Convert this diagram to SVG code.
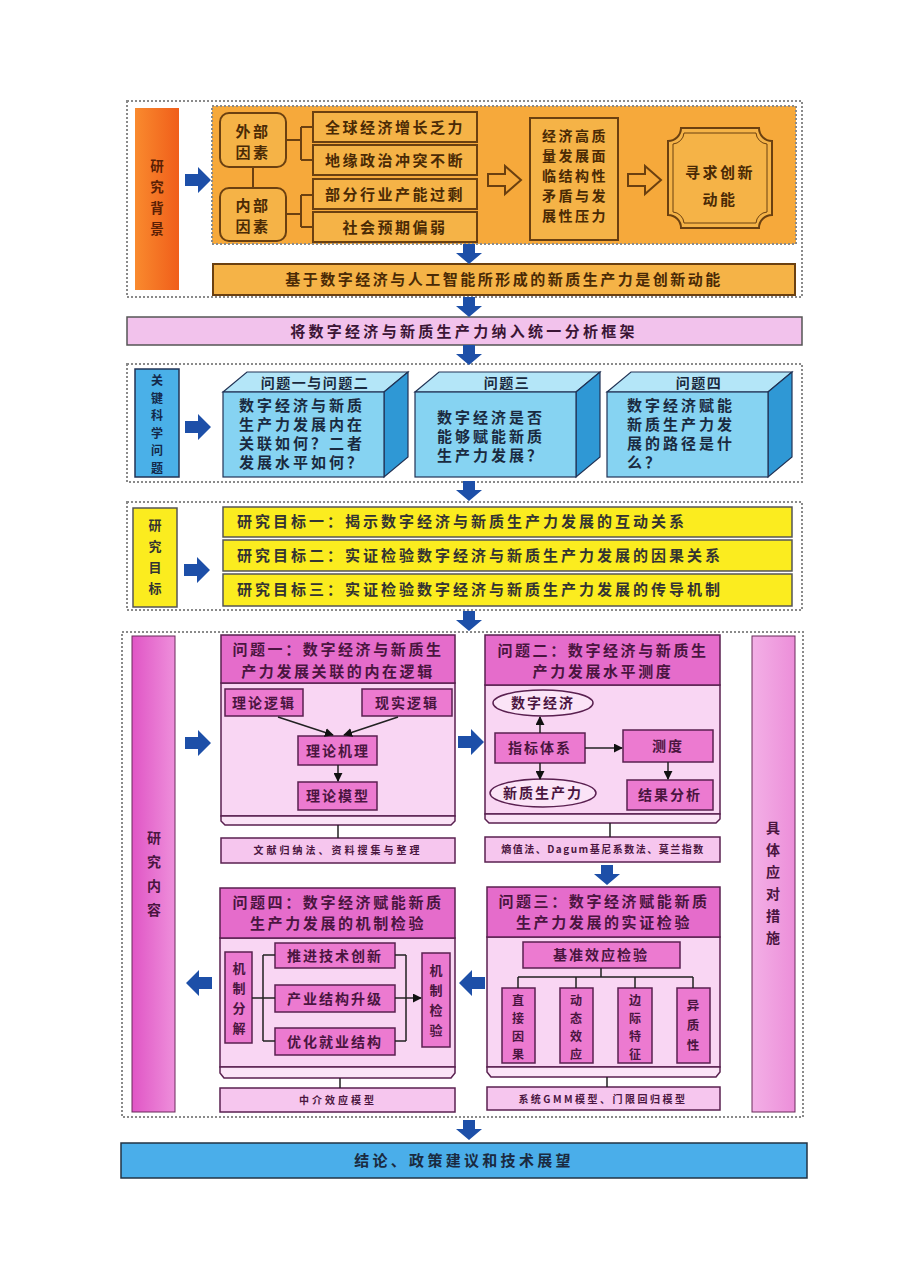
<svg xmlns="http://www.w3.org/2000/svg" width="904" height="1280" viewBox="0 0 904 1280">
<defs>
<style>
text{font-family:"Noto Sans CJK SC","Noto Sans",sans-serif;font-weight:bold;}
.frame{fill:none;stroke:#8a8a8a;stroke-width:2;stroke-dasharray:2,2}
.ob{fill:#f5b347;stroke:#6b4010;stroke-width:2}
.ot{fill:#4a2a05;font-size:15px;letter-spacing:2.5px;text-anchor:middle}
.pt{fill:#4a1540;text-anchor:middle}
.hdr{fill:#e56ccb;stroke:#5a2050;stroke-width:1.5}
.body{fill:#f9d6f3;stroke:#5a2050;stroke-width:1.5}
.ib{fill:#ec7ad0;stroke:#5a2050;stroke-width:1.5}
.sb{fill:#f6c6ee;stroke:#5a2050;stroke-width:1.5}
.yb{fill:#fbec1f;stroke:#555;stroke-width:1.5}
.yt{fill:#333;font-size:15px;letter-spacing:3px}
.bt{fill:#1a2a40;font-size:15px;letter-spacing:3px}
.ln{fill:none;stroke:#222;stroke-width:1.5}
.bl{fill:none;stroke:#6b4010;stroke-width:2}
</style>
<path id="arrD" d="M-6,-10 H6 V-1 H13 L0,10 L-13,-1 H-6 Z" fill="#1d4fa8"/>
<path id="arrR" d="M-13,-6 H0 V-13 L13,0 L0,13 V6 H-13 Z" fill="#1d4fa8"/>
<path id="arrL" d="M13,-6 H0 V-13 L-13,0 L0,13 V6 H13 Z" fill="#1d4fa8"/>
<marker id="mk" viewBox="0 0 10 10" refX="9" refY="5" markerWidth="6" markerHeight="6" orient="auto"><path d="M0,0 L10,5 L0,10 Z" fill="#111"/></marker>
<linearGradient id="gOr" x1="0" y1="0" x2="1" y2="0"><stop offset="0" stop-color="#f98a2e"/><stop offset="1" stop-color="#f05e1a"/></linearGradient>
<linearGradient id="gMg" x1="0" y1="0" x2="1" y2="0"><stop offset="0" stop-color="#e055c5"/><stop offset="1" stop-color="#ee8fdb"/></linearGradient>
<linearGradient id="gMg2" x1="0" y1="0" x2="1" y2="0"><stop offset="0" stop-color="#f3b0e6"/><stop offset="1" stop-color="#ec8ed9"/></linearGradient>
</defs>
<rect width="904" height="1280" fill="#ffffff"/>

<!-- Section 1: background -->
<g id="sec-background">
<rect class="frame" x="127" y="101" width="675" height="196"/>
<rect x="135" y="108" width="44" height="182" fill="url(#gOr)"/>
<text fill="#5a2005" font-size="13.5" text-anchor="middle"><tspan x="157" y="171">研</tspan><tspan x="157" y="192">究</tspan><tspan x="157" y="213">背</tspan><tspan x="157" y="234">景</tspan></text>
<rect x="212" y="106" width="584" height="138" fill="#f6a93b" stroke="#8a8a8a" stroke-width="2" stroke-dasharray="2,2"/>
</g>
<g id="n-external"><rect class="ob" x="220" y="113" width="66" height="54" rx="9"/><text class="ot"><tspan x="253" y="137">外部</tspan><tspan x="253" y="158">因素</tspan></text></g>
<g id="n-internal"><rect class="ob" x="220" y="188" width="66" height="53" rx="9"/><text class="ot"><tspan x="253" y="211">内部</tspan><tspan x="253" y="232">因素</tspan></text></g>
<g id="n-e1"><rect class="ob" x="313" y="112" width="164" height="30"/><text class="ot" x="395" y="133">全球经济增长乏力</text></g>
<g id="n-e2"><rect class="ob" x="313" y="145" width="164" height="30"/><text class="ot" x="395" y="166">地缘政治冲突不断</text></g>
<g id="n-i1"><rect class="ob" x="313" y="179" width="164" height="30"/><text class="ot" x="395" y="200">部分行业产能过剩</text></g>
<g id="n-i2"><rect class="ob" x="313" y="212" width="164" height="30"/><text class="ot" x="395" y="233">社会预期偏弱</text></g>
<g id="n-pressure"><rect class="ob" x="530" y="118" width="88" height="122"/><text class="ot" style="font-size:14px"><tspan x="575" y="141">经济高质</tspan><tspan x="575" y="161">量发展面</tspan><tspan x="575" y="181">临结构性</tspan><tspan x="575" y="201">矛盾与发</tspan><tspan x="575" y="221">展性压力</tspan></text></g>
<g id="n-seek"><path class="ob" d="M681,128 H759 A13,13 0 0 0 772,141 V215 A13,13 0 0 0 759,228 H681 A13,13 0 0 0 668,215 V141 A13,13 0 0 0 681,128 Z"/><path d="M684,133 H756 A12,12 0 0 0 767,144 V212 A12,12 0 0 0 756,223 H684 A12,12 0 0 0 673,212 V144 A12,12 0 0 0 684,133 Z" fill="none" stroke="#6b4010" stroke-width="1"/><text class="ot"><tspan x="720" y="178">寻求创新</tspan><tspan x="720" y="205">动能</tspan></text></g>
<g id="n-newprod"><rect class="ob" x="213" y="264" width="582" height="31"/><text class="ot" x="504" y="285" letter-spacing="3.3">基于数字经济与人工智能所形成的新质生产力是创新动能</text></g>

<!-- Section 2 -->
<g id="n-framework"><rect x="127" y="317" width="675" height="28" fill="#f2c2ec" stroke="#555" stroke-width="1.5"/><text x="464" y="337" fill="#3a1535" font-size="15" letter-spacing="3.3" text-anchor="middle">将数字经济与新质生产力纳入统一分析框架</text></g>

<!-- Section 3 -->
<g id="sec-key">
<rect class="frame" x="127" y="364" width="675" height="118"/>
<rect x="135" y="369" width="44" height="108" fill="#4ab0e8" stroke="#235" stroke-width="1.5"/>
<text fill="#13284a" font-size="12" text-anchor="middle"><tspan x="157" y="385">关</tspan><tspan x="157" y="402.5">键</tspan><tspan x="157" y="420">科</tspan><tspan x="157" y="437.5">学</tspan><tspan x="157" y="455">问</tspan><tspan x="157" y="472.5">题</tspan></text>
</g>
<g id="n-q12">
<path d="M223,392 L247,372 H408 L384,392 Z" fill="#b4e6f8" stroke="#235" stroke-width="1.2"/>
<path d="M384,392 L408,372 V457 L384,477 Z" fill="#2f98d5" stroke="#235" stroke-width="1.2"/>
<rect x="223" y="392" width="161" height="85" fill="#86d3f2" stroke="#235" stroke-width="1.2"/>
<text x="315" y="388" fill="#1a2a40" font-size="14" letter-spacing="1.5" text-anchor="middle">问题一与问题二</text>
<text class="bt"><tspan x="239" y="411">数字经济与新质</tspan><tspan x="239" y="430">生产力发展内在</tspan><tspan x="239" y="449">关联如何？二者</tspan><tspan x="239" y="468">发展水平如何？</tspan></text>
</g>
<g id="n-q3">
<path d="M415,392 L439,372 H600 L576,392 Z" fill="#b4e6f8" stroke="#235" stroke-width="1.2"/>
<path d="M576,392 L600,372 V457 L576,477 Z" fill="#2f98d5" stroke="#235" stroke-width="1.2"/>
<rect x="415" y="392" width="161" height="85" fill="#86d3f2" stroke="#235" stroke-width="1.2"/>
<text x="507" y="388" fill="#1a2a40" font-size="14" letter-spacing="1.5" text-anchor="middle">问题三</text>
<text class="bt"><tspan x="437" y="423">数字经济是否</tspan><tspan x="437" y="442">能够赋能新质</tspan><tspan x="437" y="461">生产力发展？</tspan></text>
</g>
<g id="n-q4">
<path d="M607,392 L631,372 H792 L768,392 Z" fill="#b4e6f8" stroke="#235" stroke-width="1.2"/>
<path d="M768,392 L792,372 V457 L768,477 Z" fill="#2f98d5" stroke="#235" stroke-width="1.2"/>
<rect x="607" y="392" width="161" height="85" fill="#86d3f2" stroke="#235" stroke-width="1.2"/>
<text x="699" y="388" fill="#1a2a40" font-size="14" letter-spacing="1.5" text-anchor="middle">问题四</text>
<text class="bt"><tspan x="627" y="411">数字经济赋能</tspan><tspan x="627" y="430">新质生产力发</tspan><tspan x="627" y="449">展的路径是什</tspan><tspan x="627" y="468">么？</tspan></text>
</g>

<!-- Section 4 -->
<g id="sec-goal">
<rect class="frame" x="127" y="502" width="675" height="108"/>
<rect x="133" y="508" width="44" height="99" fill="#fbec1f" stroke="#555" stroke-width="1.5"/>
<text fill="#333" font-size="13" text-anchor="middle"><tspan x="155" y="530">研</tspan><tspan x="155" y="551">究</tspan><tspan x="155" y="572">目</tspan><tspan x="155" y="593">标</tspan></text>
</g>
<g id="n-goal1"><rect class="yb" x="223" y="507" width="569" height="30"/><text class="yt" x="237" y="527">研究目标一：揭示数字经济与新质生产力发展的互动关系</text></g>
<g id="n-goal2"><rect class="yb" x="223" y="540" width="569" height="31"/><text class="yt" x="237" y="561">研究目标二：实证检验数字经济与新质生产力发展的因果关系</text></g>
<g id="n-goal3"><rect class="yb" x="223" y="574" width="569" height="32"/><text class="yt" x="237" y="595">研究目标三：实证检验数字经济与新质生产力发展的传导机制</text></g>

<!-- Section 5 -->
<g id="sec-content">
<rect class="frame" x="122" y="632" width="681" height="485"/>
<rect x="132" y="636" width="43" height="476" fill="url(#gMg)" stroke="#6a2a5a" stroke-width="1"/>
<text fill="#4a1540" font-size="14" text-anchor="middle"><tspan x="154" y="843">研</tspan><tspan x="154" y="867">究</tspan><tspan x="154" y="891">内</tspan><tspan x="154" y="915">容</tspan></text>
</g>
<g id="n-measures">
<rect x="752" y="636" width="43" height="476" fill="url(#gMg2)" stroke="#6a2a5a" stroke-width="1"/>
<text fill="#4a1540" font-size="14" text-anchor="middle"><tspan x="773" y="833">具</tspan><tspan x="773" y="855">体</tspan><tspan x="773" y="877">应</tspan><tspan x="773" y="899">对</tspan><tspan x="773" y="921">措</tspan><tspan x="773" y="943">施</tspan></text>
</g>

<!-- Problem 1 -->
<g id="n-p1">
<rect class="body" x="221" y="683" width="234" height="133"/>
<path d="M221,816 H455 V821 L451,825 H225 L221,821 Z" fill="#fbe4f7" stroke="#5a2050" stroke-width="1.5"/>
<rect class="hdr" x="221" y="635" width="234" height="48"/>
<text class="pt" font-size="15" letter-spacing="2.6"><tspan x="338" y="655">问题一：数字经济与新质生</tspan><tspan x="338" y="677">产力发展关联的内在逻辑</tspan></text>
</g>
<g id="n-p1a"><rect class="ib" x="225" y="689" width="78" height="27"/><text class="pt" x="264" y="708" font-size="14" letter-spacing="2">理论逻辑</text></g>
<g id="n-p1b"><rect class="ib" x="362" y="689" width="90" height="27"/><text class="pt" x="407" y="708" font-size="14" letter-spacing="2">现实逻辑</text></g>
<g id="n-p1c"><rect class="ib" x="298" y="736" width="79" height="29"/><text class="pt" x="338" y="756" font-size="14" letter-spacing="2">理论机理</text></g>
<g id="n-p1d"><rect class="ib" x="298" y="782" width="79" height="28"/><text class="pt" x="338" y="801" font-size="14" letter-spacing="2">理论模型</text></g>
<g id="n-p1m"><rect class="sb" x="221" y="838" width="234" height="25"/><text class="pt" x="338" y="854" font-size="10" letter-spacing="3">文献归纳法、资料搜集与整理</text></g>

<!-- Problem 2 -->
<g id="n-p2">
<rect class="body" x="485" y="685" width="235" height="129"/>
<path d="M485,814 H720 V819 L716,823 H489 L485,819 Z" fill="#fbe4f7" stroke="#5a2050" stroke-width="1.5"/>
<rect class="hdr" x="485" y="635" width="235" height="50"/>
<text class="pt" font-size="15" letter-spacing="2.6"><tspan x="603" y="656">问题二：数字经济与新质生</tspan><tspan x="603" y="677">产力发展水平测度</tspan></text>
</g>
<g id="n-p2a"><ellipse cx="543" cy="703" rx="50" ry="13" fill="#fbe4f7" stroke="#5a2050" stroke-width="1.5"/><text class="pt" x="543" y="708" font-size="14" letter-spacing="2">数字经济</text></g>
<g id="n-p2b"><rect class="ib" x="495" y="733" width="90" height="30"/><text class="pt" x="540" y="753" font-size="14" letter-spacing="2">指标体系</text></g>
<g id="n-p2c"><ellipse cx="543" cy="793" rx="53" ry="14" fill="#fbe4f7" stroke="#5a2050" stroke-width="1.5"/><text class="pt" x="543" y="798" font-size="14" letter-spacing="2">新质生产力</text></g>
<g id="n-p2d"><rect class="ib" x="623" y="730" width="90" height="32"/><text class="pt" x="668" y="751" font-size="14" letter-spacing="2">测度</text></g>
<g id="n-p2e"><rect class="ib" x="627" y="780" width="86" height="30"/><text class="pt" x="670" y="800" font-size="14" letter-spacing="2">结果分析</text></g>
<g id="n-p2m"><rect class="sb" x="485" y="837" width="235" height="25"/><text class="pt" x="603" y="853" font-size="10" letter-spacing="1.5">熵值法、Dagum基尼系数法、莫兰指数</text></g>

<!-- Problem 3 -->
<g id="n-p3">
<rect class="body" x="487" y="937" width="233" height="130"/>
<path d="M487,1067 H720 V1072 L716,1077 H491 L487,1072 Z" fill="#fbe4f7" stroke="#5a2050" stroke-width="1.5"/>
<rect class="hdr" x="487" y="887" width="233" height="50"/>
<text class="pt" font-size="15" letter-spacing="2.6"><tspan x="604" y="907">问题三：数字经济赋能新质</tspan><tspan x="604" y="928">生产力发展的实证检验</tspan></text>
</g>
<g id="n-p3a"><rect class="ib" x="523" y="942" width="157" height="26"/><text class="pt" x="601" y="960" font-size="14" letter-spacing="2">基准效应检验</text></g>
<g id="n-p3b"><rect class="ib" x="502" y="988" width="33" height="75"/><text class="pt" font-size="12"><tspan x="518" y="1005">直</tspan><tspan x="518" y="1023">接</tspan><tspan x="518" y="1041">因</tspan><tspan x="518" y="1059">果</tspan></text></g>
<g id="n-p3c"><rect class="ib" x="560" y="988" width="33" height="75"/><text class="pt" font-size="12"><tspan x="576" y="1005">动</tspan><tspan x="576" y="1023">态</tspan><tspan x="576" y="1041">效</tspan><tspan x="576" y="1059">应</tspan></text></g>
<g id="n-p3d"><rect class="ib" x="618" y="988" width="34" height="75"/><text class="pt" font-size="12"><tspan x="635" y="1005">边</tspan><tspan x="635" y="1023">际</tspan><tspan x="635" y="1041">特</tspan><tspan x="635" y="1059">征</tspan></text></g>
<g id="n-p3e"><rect class="ib" x="677" y="988" width="33" height="75"/><text class="pt" font-size="12.5"><tspan x="693" y="1010">异</tspan><tspan x="693" y="1030">质</tspan><tspan x="693" y="1050">性</tspan></text></g>
<g id="n-p3m"><rect class="sb" x="487" y="1087" width="233" height="23"/><text class="pt" x="603" y="1103" font-size="10" letter-spacing="2.5">系统GMM模型、门限回归模型</text></g>

<!-- Problem 4 -->
<g id="n-p4">
<rect class="body" x="220" y="938" width="235" height="129"/>
<path d="M220,1067 H455 V1073 L451,1078 H224 L220,1073 Z" fill="#fbe4f7" stroke="#5a2050" stroke-width="1.5"/>
<rect class="hdr" x="220" y="888" width="235" height="50"/>
<text class="pt" font-size="15" letter-spacing="2.6"><tspan x="338" y="908">问题四：数字经济赋能新质</tspan><tspan x="338" y="929">生产力发展的机制检验</tspan></text>
</g>
<g id="n-p4a"><rect class="ib" x="225" y="952" width="27" height="91"/><text class="pt" font-size="13"><tspan x="239" y="973">机</tspan><tspan x="239" y="993">制</tspan><tspan x="239" y="1013">分</tspan><tspan x="239" y="1033">解</tspan></text></g>
<g id="n-p4b"><rect class="ib" x="275" y="943" width="120" height="25"/><text class="pt" x="335" y="961" font-size="14" letter-spacing="2">推进技术创新</text></g>
<g id="n-p4c"><rect class="ib" x="275" y="985" width="120" height="27"/><text class="pt" x="335" y="1004" font-size="14" letter-spacing="2">产业结构升级</text></g>
<g id="n-p4d"><rect class="ib" x="275" y="1028" width="120" height="27"/><text class="pt" x="335" y="1047" font-size="14" letter-spacing="2">优化就业结构</text></g>
<g id="n-p4e"><rect class="ib" x="422" y="953" width="28" height="94"/><text class="pt" font-size="13"><tspan x="436" y="975">机</tspan><tspan x="436" y="995">制</tspan><tspan x="436" y="1015">检</tspan><tspan x="436" y="1035">验</tspan></text></g>
<g id="n-p4m"><rect class="sb" x="220" y="1088" width="235" height="24"/><text class="pt" x="338" y="1104" font-size="10" letter-spacing="3">中介效应模型</text></g>

<!-- Final -->
<g id="n-final"><rect x="121" y="1143" width="686" height="35" fill="#4aaeea" stroke="#234" stroke-width="1.5"/><text x="464" y="1166" fill="#1a2a40" font-size="15" letter-spacing="3.3" text-anchor="middle">结论、政策建议和技术展望</text></g>

<!-- Connectors -->
<g id="connectors">
<path class="bl" d="M286,140 H301 M301,127 V160 M301,127 H313 M301,160 H313"/>
<path class="bl" d="M286,214 H301 M301,195 V227 M301,195 H313 M301,227 H313"/>
<path class="bl" d="M253,167 V188"/>
<path d="M488,174 H505 V166 L521,180 L505,194 V186 H488 Z" fill="#f6a93b" stroke="#6b4010" stroke-width="2"/>
<path d="M628,174 H645 V166 L661,180 L645,194 V186 H628 Z" fill="#f6a93b" stroke="#6b4010" stroke-width="2"/>
<use href="#arrR" x="198" y="180"/>
<use href="#arrD" x="469" y="254"/>
<use href="#arrD" x="469" y="307"/>
<use href="#arrD" x="469" y="355"/>
<use href="#arrR" x="198" y="427"/>
<use href="#arrD" x="469" y="491"/>
<use href="#arrR" x="197" y="570"/>
<use href="#arrD" x="469" y="621"/>
<use href="#arrR" x="198" y="743"/>
<use href="#arrR" x="471" y="742"/>
<use href="#arrD" x="607" y="875"/>
<use href="#arrL" x="472" y="983"/>
<use href="#arrL" x="199" y="983"/>
<use href="#arrD" x="469" y="1130"/>
<!-- problem 1 -->
<path class="ln" d="M278,717 L333,735" marker-end="url(#mk)"/>
<path class="ln" d="M398,717 L344,735" marker-end="url(#mk)"/>
<path class="ln" d="M338,765 V781" marker-end="url(#mk)"/>
<path class="ln" d="M338,825 V838"/>
<!-- problem 2 -->
<path class="ln" d="M540,733 V717" marker-end="url(#mk)"/>
<path class="ln" d="M540,763 V779" marker-end="url(#mk)"/>
<path class="ln" d="M585,748 H622" marker-end="url(#mk)"/>
<path class="ln" d="M668,762 V779" marker-end="url(#mk)"/>
<path class="ln" d="M610,823 V837"/>
<!-- problem 3 -->
<path class="ln" d="M601,968 V977 M518,977 H693 M518,977 V988 M576,977 V988 M635,977 V988 M693,977 V988"/>
<path class="ln" d="M607,1077 V1087"/>
<!-- problem 4 -->
<path class="ln" d="M252,998 H275 M263,955 V1041 M263,955 H275 M263,1041 H275"/>
<path class="ln" d="M395,955 H406 M395,1041 H406 M406,955 V1041"/>
<path class="ln" d="M395,998 H421" marker-end="url(#mk)"/>
<path class="ln" d="M340,1078 V1088"/>
</g>
</svg>
